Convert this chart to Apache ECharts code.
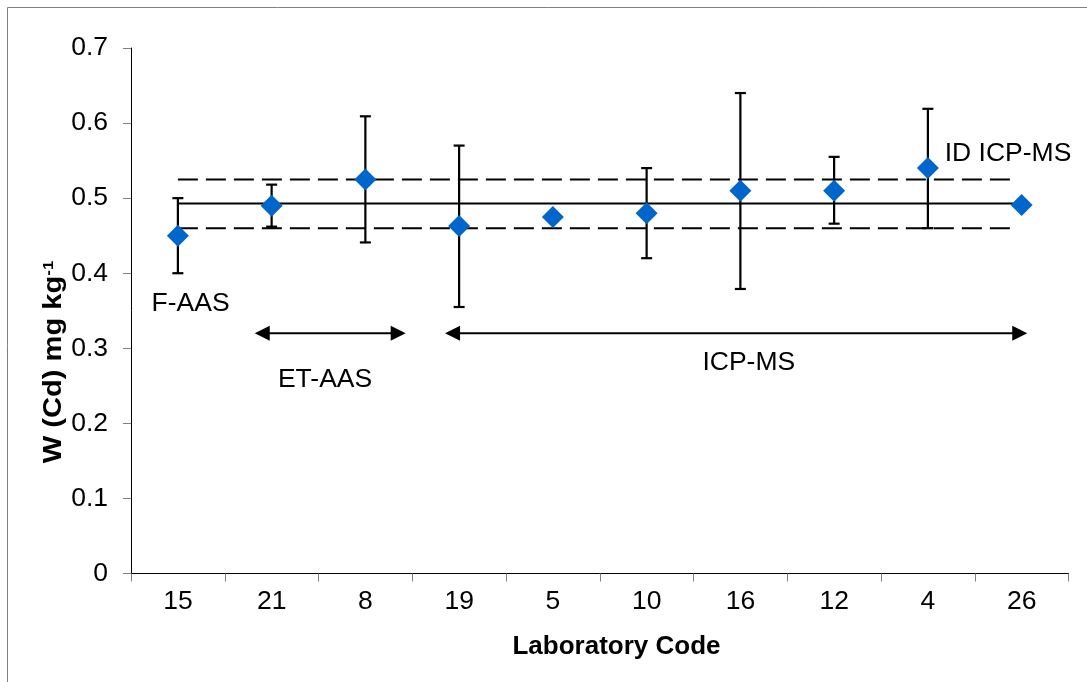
<!DOCTYPE html>
<html><head><meta charset="utf-8">
<script src="https://cdn.jsdelivr.net/npm/echarts@6/dist/echarts.min.js"></script>
<style>html,body{margin:0;padding:0;background:#fff}#c{width:1087px;height:682px}</style>
</head><body><div id="c"></div>
<script>
// ---- data ----
const labCodes = ['15','21','8','19','5','10','16','12','4','26'];
const wCd      = [0.45, 0.49, 0.525, 0.463, 0.475, 0.48, 0.51, 0.51, 0.54, 0.491];
const errLow   = [0.40, 0.462, 0.441, 0.355, null, 0.42, 0.379, 0.466, 0.46, null];
const errHigh  = [0.50, 0.518, 0.609, 0.570, null, 0.54, 0.640, 0.555, 0.619, null];
const refMean = 0.493, refUpper = 0.525, refLower = 0.46;
const refLineX = [0, 8.92];            // in category-index units
const methodArrows = [[0.82, 2.43, 0.32], [2.85, 9.06, 0.32]];  // x1, x2, y
const methodNames = ['F-AAS', 'ET-AAS', 'ICP-MS', 'ID ICP-MS'];
const methodPos   = [[0.136, 0.359], [1.57, 0.258], [6.09, 0.281], [8.18, 0.559]];
const methodAlign = ['center', 'center', 'center', 'left'];
const yMin = 0, yMax = 0.7, yStep = 0.1;
const xTitle = 'Laboratory Code';
const yTitle = 'W (Cd) mg kg';
const yTitleSup = '-1';

const FONT = "'Liberation Sans', Arial, Helvetica, sans-serif";
const chart = echarts.init(document.getElementById('c'), null, {renderer: 'canvas'});

const errData = labCodes.map((c, i) => [i, errLow[i], errHigh[i]]).filter(d => d[1] != null);

const option = {
  animation: false,
  backgroundColor: '#fff',
  grid: {left: 131, right: 18.5, top: 48, bottom: 108.5, containLabel: false, outerBoundsMode: 'none'},
  xAxis: [{
    type: 'category', data: labCodes, boundaryGap: true,
    axisLine: {onZero: false, lineStyle: {color: '#000', width: 1}},
    axisTick: {show: true, length: 8, lineStyle: {color: '#808080'}, alignWithLabel: false},
    axisLabel: {fontSize: 26.5, color: '#000', fontFamily: FONT, margin: 15, interval: 0},
    splitLine: {show: false}
  }, {
    type: 'value', min: -0.5, max: 9.5, show: false,
    axisLine: {onZero: false}
  }],
  yAxis: [{
    type: 'value', min: yMin, max: yMax, interval: yStep,
    axisLine: {show: true, onZero: false, lineStyle: {color: '#000', width: 1}},
    axisTick: {show: true, length: 8, lineStyle: {color: '#808080'}},
    axisLabel: {fontSize: 26.5, color: '#000', fontFamily: FONT, margin: 23},
    splitLine: {show: false}
  }],
  series: [
    {type: 'line', xAxisIndex: 1, data: [[refLineX[0], refMean], [refLineX[1], refMean]],
     showSymbol: false, silent: true, lineStyle: {color: '#000', width: 2}, z: 1},
    {type: 'line', xAxisIndex: 1, data: [[refLineX[0], refUpper], [refLineX[1], refUpper]],
     showSymbol: false, silent: true, lineStyle: {color: '#000', width: 2, type: [20, 8]}, z: 1},
    {type: 'line', xAxisIndex: 1, data: [[refLineX[0], refLower], [refLineX[1], refLower]],
     showSymbol: false, silent: true, lineStyle: {color: '#000', width: 2, type: [20, 8]}, z: 1},
    {type: 'custom', xAxisIndex: 0, data: errData, z: 2,
     renderItem: function (params, api) {
       const x = api.value(0);
       const lo = api.coord([x, api.value(1)]);
       const hi = api.coord([x, api.value(2)]);
       const hw = 5.5;
       const st = {stroke: '#000', lineWidth: 2.2};
       return {type: 'group', children: [
         {type: 'line', shape: {x1: lo[0], y1: lo[1], x2: hi[0], y2: hi[1]}, style: st},
         {type: 'line', shape: {x1: lo[0]-hw, y1: lo[1], x2: lo[0]+hw, y2: lo[1]}, style: st},
         {type: 'line', shape: {x1: hi[0]-hw, y1: hi[1], x2: hi[0]+hw, y2: hi[1]}, style: st}
       ]};
     }},
    {type: 'scatter', xAxisIndex: 0, data: wCd, symbol: 'diamond', symbolSize: [22, 22],
     itemStyle: {color: '#0066CC', opacity: 1}, z: 5},
    {type: 'custom', xAxisIndex: 1, data: methodArrows, z: 3,
     renderItem: function (params, api) {
       const p1 = api.coord([api.value(0), api.value(2)]);
       const p2 = api.coord([api.value(1), api.value(2)]);
       const L = 15, H = 7.5;
       return {type: 'group', children: [
         {type: 'line', shape: {x1: p1[0]+L-1, y1: p1[1], x2: p2[0]-L+1, y2: p2[1]}, style: {stroke: '#000', lineWidth: 2}},
         {type: 'polygon', shape: {points: [[p1[0], p1[1]], [p1[0]+L, p1[1]-H], [p1[0]+L, p1[1]+H]]}, style: {fill: '#000'}},
         {type: 'polygon', shape: {points: [[p2[0], p2[1]], [p2[0]-L, p2[1]-H], [p2[0]-L, p2[1]+H]]}, style: {fill: '#000'}}
       ]};
     }},
    {type: 'custom', xAxisIndex: 1, data: methodPos, z: 4,
     renderItem: function (params, api) {
       const p = api.coord([api.value(0), api.value(1)]);
       const i = params.dataIndex;
       return {type: 'text', x: p[0], y: p[1], style: {
         text: methodNames[i], fill: '#000', fontSize: 26.5, fontFamily: FONT,
         textAlign: methodAlign[i], textVerticalAlign: 'middle',
         align: methodAlign[i], verticalAlign: 'middle'
       }};
     }}
  ],
  graphic: [
    {type: 'rect', shape: {x: 7.5, y: 7.5, width: 1300, height: 1000}, style: {fill: 'none', stroke: '#808080', lineWidth: 1}, silent: true, z: -10},
    {type: 'text', x: 616.5, y: 647, style: {
      text: xTitle, fill: '#000', fontSize: 26, fontWeight: 'bold', fontFamily: FONT,
      textAlign: 'center', textVerticalAlign: 'middle', align: 'center', verticalAlign: 'middle'}},
    {type: 'text', x: 54, y: 362, rotation: Math.PI / 2, scaleX: 1.12, style: {
      text: '{a|' + yTitle + '}{s|' + yTitleSup + '}',
      fill: '#000', fontFamily: FONT,
      textAlign: 'center', textVerticalAlign: 'middle', align: 'center', verticalAlign: 'middle',
      rich: {
        a: {fontSize: 26, fontWeight: 'bold', fontFamily: FONT, fill: '#000', color: '#000', verticalAlign: 'bottom'},
        s: {fontSize: 15, fontWeight: 'bold', fontFamily: FONT, fill: '#000', color: '#000', verticalAlign: 'top'}
      }}}
  ]
};
chart.setOption(option);
</script></body></html>
